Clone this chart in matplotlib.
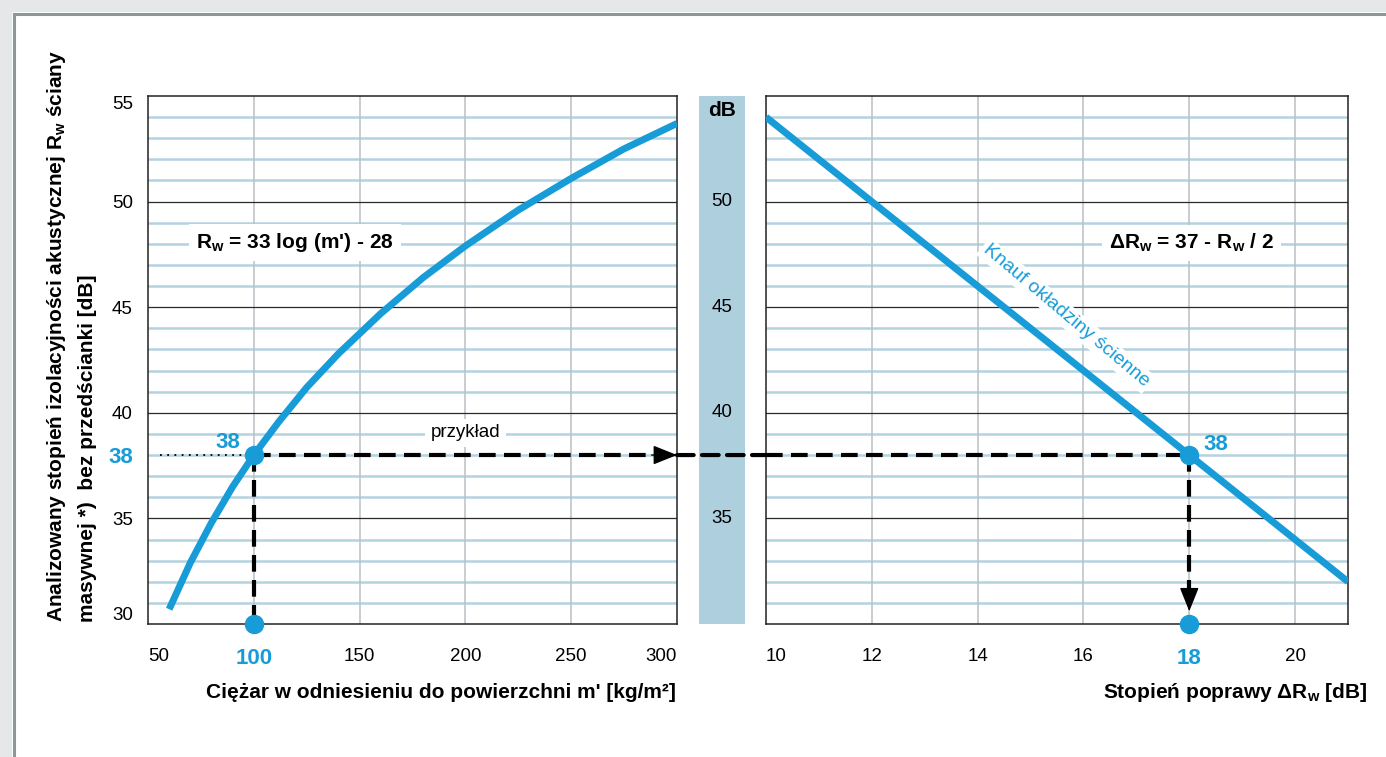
import matplotlib
matplotlib.use('Agg')
import matplotlib.pyplot as plt
import matplotlib.patches as mpatches
from matplotlib import font_manager as fm
from matplotlib.patches import ConnectionPatch
import numpy as np

names = {f.name for f in fm.fontManager.ttflist}
FONT = 'Liberation Sans Narrow' if 'Liberation Sans Narrow' in names else 'Liberation Sans'
plt.rcParams['font.family'] = [FONT, 'DejaVu Sans']
plt.rcParams['mathtext.fontset'] = 'custom'
plt.rcParams['mathtext.rm'] = FONT + ':bold'
plt.rcParams['mathtext.it'] = FONT + ':bold'
plt.rcParams['mathtext.bf'] = FONT + ':bold'
plt.rcParams['mathtext.default'] = 'rm'

# --- data ---
mass = [60, 70, 80, 90, 100, 112, 125, 140, 160, 180, 200, 225, 250, 275, 300]
rw_mass = [30.7, 32.9, 34.8, 36.5, 38.0, 39.6, 41.2, 42.8, 44.7, 46.4, 47.9, 49.6, 51.1, 52.5, 53.7]
delta_rw = [10, 21]
rw_knauf = [54, 32]
ex_mass, ex_rw, ex_delta = 100, 38, 18

x1_ticks = [50, 100, 150, 200, 250, 300]
x3_ticks = [10, 12, 14, 16, 18, 20]
y_ticks = [30, 35, 38, 40, 45, 50, 55]
db_labels = [35, 40, 45, 50]

BLUE = '#179cd8'
MINOR = '#b4d3e0'
VGRID = '#b9c0c6'
BAR = '#aecfde'
TICK_FS = 13.5
LABEL_FS = 15

W, H = 1386, 757
def fx(px): return px / W
def fy(py): return 1 - py / H

fig = plt.figure(figsize=(13.86, 7.57), dpi=100)
fig.patch.set_facecolor('white')

# page frame (top / left grey strip + border)
fig.add_artist(mpatches.Rectangle((0, fy(12)), 1, 12 / H, transform=fig.transFigure,
                                  facecolor='#e6e7e9', edgecolor='none'))
fig.add_artist(mpatches.Rectangle((0, 0), fx(12), 1, transform=fig.transFigure,
                                  facecolor='#e6e7e9', edgecolor='none'))
fig.add_artist(plt.Line2D([fx(13.5), 1], [fy(13.5), fy(13.5)], transform=fig.transFigure,
                          color='#8c969b', lw=2.2))
fig.add_artist(plt.Line2D([fx(13.5), fx(13.5)], [0, fy(13.5)], transform=fig.transFigure,
                          color='#8c969b', lw=2.2))

ax1 = fig.add_axes([fx(148), fy(624), fx(677) - fx(148), fy(96) - fy(624)])
axm = fig.add_axes([fx(699), fy(624), fx(745) - fx(699), fy(96) - fy(624)])
ax3 = fig.add_axes([fx(766), fy(624), fx(1348) - fx(766), fy(96) - fy(624)])


def grid(ax, xs):
    for v in range(31, 55):
        if v % 5:
            ax.axhline(v, color=MINOR, lw=1.8, zorder=1)
    for v in (35, 40, 45, 50):
        ax.axhline(v, color='#2a2a2a', lw=0.9, zorder=1.2)
    for v in xs:
        ax.axvline(v, color=VGRID, lw=1.1, zorder=1.1)
    for s in ax.spines.values():
        s.set_color('#222222')
        s.set_linewidth(1.1)
    ax.tick_params(length=0, labelsize=TICK_FS)


# ---- left: Rw vs mass ----
ax1.set_xlim(50, 300)
ax1.set_ylim(30, 55)
grid(ax1, x1_ticks[1:-1])
ax1.plot(mass, rw_mass, color=BLUE, lw=5, solid_capstyle='butt', zorder=3)
ax1.set_xticks(x1_ticks)
ax1.set_xticklabels([str(v) for v in x1_ticks])
ax1.set_yticks(y_ticks)
ax1.set_yticklabels([str(v) for v in y_ticks])
ax1.tick_params(axis='x', pad=17)
ax1.tick_params(axis='y', pad=11)
xl = ax1.get_xticklabels()
xl[0].set_ha('left')
xl[-1].set_ha('right')
xl[1].set_color(BLUE)
xl[1].set_fontweight('bold')
xl[1].set_fontsize(16)
yl = ax1.get_yticklabels()
yl[0].set_va('bottom')
yl[-1].set_va('top')
yl[2].set_color(BLUE)
yl[2].set_fontweight('bold')
yl[2].set_fontsize(16)

ax1.plot([55.7, ex_mass], [ex_rw, ex_rw], color='black', lw=1.3, ls=(0, (1, 3)), zorder=3)
ax1.plot([ex_mass, 300], [ex_rw, ex_rw], color='black', lw=3, ls=(0, (4, 2)), zorder=4)
ax1.plot([ex_mass, ex_mass], [ex_rw, 30], color='black', lw=3, ls=(0, (4, 2)), zorder=4,
         clip_on=False)
ax1.annotate('', xy=(300, ex_rw), xytext=(288, ex_rw),
             arrowprops=dict(arrowstyle='-|>,head_length=0.75,head_width=0.3', color='black',
                             lw=1, mutation_scale=20, shrinkA=0, shrinkB=0), zorder=5)
ax1.plot([ex_mass, ex_mass], [ex_rw, 30], 'o', color=BLUE, ms=13, zorder=6, clip_on=False)
ax1.text(87.8, 38.6, '38', color=BLUE, fontsize=16, fontweight='bold', ha='center',
         va='center', zorder=6)
ax1.text(119.5, 48.05, r"R$_{w}$ = 33 log (m') - 28", fontsize=LABEL_FS, fontweight='bold',
         ha='center', va='center', zorder=5,
         bbox=dict(facecolor='white', edgecolor='none', pad=5))
ax1.text(200, 39.05, 'przykład', fontsize=13.5, ha='center', va='center', zorder=5,
         bbox=dict(facecolor='white', edgecolor='none', pad=4))

# ---- middle dB bar ----
axm.set_xlim(0, 1)
axm.set_ylim(30, 55)
axm.set_facecolor(BAR)
for s in axm.spines.values():
    s.set_visible(False)
axm.set_xticks([])
axm.set_yticks([])
for v in db_labels:
    axm.text(0.5, v, str(v), ha='center', va='center', fontsize=TICK_FS)
axm.text(0.5, 54.3, 'dB', ha='center', va='center', fontsize=15, fontweight='bold')

# ---- right: improvement ----
ax3.set_xlim(10, 21)
ax3.set_ylim(30, 55)
grid(ax3, x3_ticks[1:])
ax3.plot(delta_rw, rw_knauf, color=BLUE, lw=5, solid_capstyle='butt', zorder=3)
ax3.set_xticks(x3_ticks)
ax3.set_xticklabels([str(v) for v in x3_ticks])
ax3.set_yticks([])
ax3.tick_params(axis='x', pad=17)
xl3 = ax3.get_xticklabels()
xl3[0].set_ha('left')
xl3[4].set_color(BLUE)
xl3[4].set_fontweight('bold')
xl3[4].set_fontsize(16)

ax3.plot([10, ex_delta], [ex_rw, ex_rw], color='black', lw=3, ls=(0, (4, 2)), zorder=4)
ax3.plot([ex_delta, ex_delta], [ex_rw, 31.3], color='black', lw=3, ls=(0, (4, 2)), zorder=4)
ax3.annotate('', xy=(ex_delta, 30.6), xytext=(ex_delta, 31.5),
             arrowprops=dict(arrowstyle='-|>,head_length=0.75,head_width=0.3', color='black',
                             lw=1, mutation_scale=20, shrinkA=0, shrinkB=0), zorder=5)
ax3.plot([ex_delta, ex_delta], [ex_rw, 30], 'o', color=BLUE, ms=13, zorder=6, clip_on=False)
ax3.text(18.5, 38.5, '38', color=BLUE, fontsize=16, fontweight='bold', ha='center',
         va='center', zorder=6)
ax3.text(18.04, 48.05, r"ΔR$_{w}$ = 37 - R$_{w}$ / 2", fontsize=LABEL_FS, fontweight='bold',
         ha='center', va='center', zorder=5,
         bbox=dict(facecolor='white', edgecolor='none', pad=5))

p0, p1 = ax3.transData.transform([(delta_rw[0], rw_knauf[0]), (delta_rw[1], rw_knauf[1])])
ang = np.degrees(np.arctan2(p1[1] - p0[1], p1[0] - p0[0]))
ax3.text(15.67, 44.6, 'Knauf okładziny ścienne', color=BLUE, fontsize=14, rotation=ang - 1.5,
         rotation_mode='anchor', ha='center', va='center', zorder=5,
         bbox=dict(facecolor='white', edgecolor='none', pad=2))

# dashed link across the dB bar
con = ConnectionPatch(xyA=(300, ex_rw), coordsA='data', axesA=ax1,
                      xyB=(10, ex_rw), coordsB='data', axesB=ax3,
                      color='black', lw=3, ls=(0, (4, 2)), zorder=5)
fig.add_artist(con)

# axis titles
fig.text(fx(676), fy(692), "Ciężar w odniesieniu do powierzchni m' [kg/m²]", ha='right',
         va='center', fontsize=LABEL_FS, fontweight='bold')
fig.text(fx(1368), fy(692), r"Stopień poprawy ΔR$_{w}$ [dB]", ha='right', va='center',
         fontsize=LABEL_FS, fontweight='bold')
fig.text(fx(57), fy(622), r"Analizowany stopień izolacyjności akustycznej R$_{w}$ ściany",
         rotation=90, ha='center', va='bottom', fontsize=LABEL_FS, fontweight='bold')
fig.text(fx(88), fy(622), "masywnej *)  bez przedścianki [dB]",
         rotation=90, ha='center', va='bottom', fontsize=LABEL_FS, fontweight='bold')

fig.savefig('out.png', dpi=100)
